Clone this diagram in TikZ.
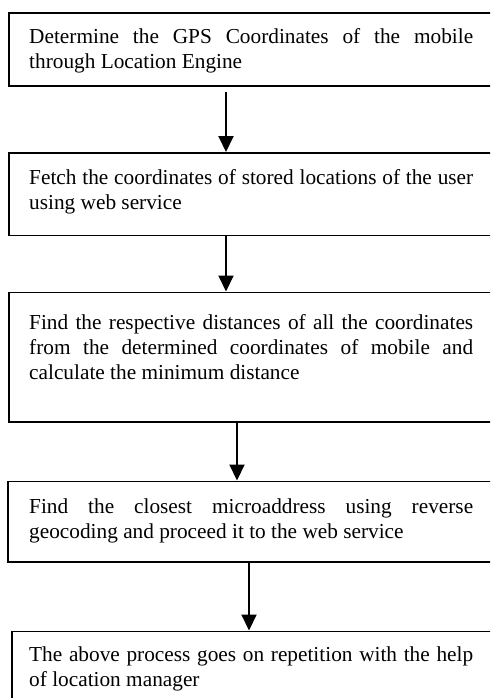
\documentclass[tikz,border=0pt]{standalone}
\usepackage{fontspec}
\setmainfont{Liberation Serif}
\usetikzlibrary{arrows.meta}
\begin{document}
\begin{tikzpicture}[x=1pt,y=-1pt,
  box/.style={draw, line width=1.8pt, rectangle, inner sep=0pt, anchor=north west, minimum width=500pt},
  txt/.style={text width=444pt, align=justify, inner sep=0pt, anchor=base west,
    font=\fontsize{21.3pt}{25pt}\selectfont},
  arr/.style={line width=2pt, -{Triangle[length=16pt,width=15pt]}}]
\useasboundingbox (0,0) rectangle (490,698);
\clip (0,0) rectangle (490,698);
\node[box, minimum height=73pt] (b1) at (8,12) {};
\node[box, minimum height=82.5pt] (b2) at (8,152) {};
\node[box, minimum height=129.5pt] (b3) at (8,291.5) {};
\node[box, minimum height=80.5pt] (b4) at (7,480.5) {};
\node[box, minimum height=100pt] (b5) at (11,630.5) {};
\node[txt] (t1) at (29,43.3) {Determine the GPS Coordinates of the mobile\linebreak through Location Engine};
\node[txt] (t2) at (29,184) {Fetch the coordinates of stored locations of the user\linebreak using web service};
\node[txt] (t3) at (29,329.3) {Find the respective distances of all the coordinates\linebreak from the determined coordinates of mobile and\linebreak calculate the minimum distance};
\node[txt] (t4) at (29,513.3) {Find the closest microaddress using reverse\linebreak geocoding and proceed it to the web service};
\node[txt] (t5) at (29,661) {The above process goes on repetition with the help\linebreak of location manager};
\coordinate (s1) at (226,92);
\coordinate (x2) at (226,0);
\coordinate (x3) at (237,0);
\coordinate (x4) at (249,0);
\draw[arr] (s1) -- (s1 |- b2.north);
\draw[arr] (b2.south -| x2) -- (b3.north -| x2);
\draw[arr] (b3.south -| x3) -- (b4.north -| x3);
\draw[arr] (b4.south -| x4) -- (b5.north -| x4);
\end{tikzpicture}
\end{document}
